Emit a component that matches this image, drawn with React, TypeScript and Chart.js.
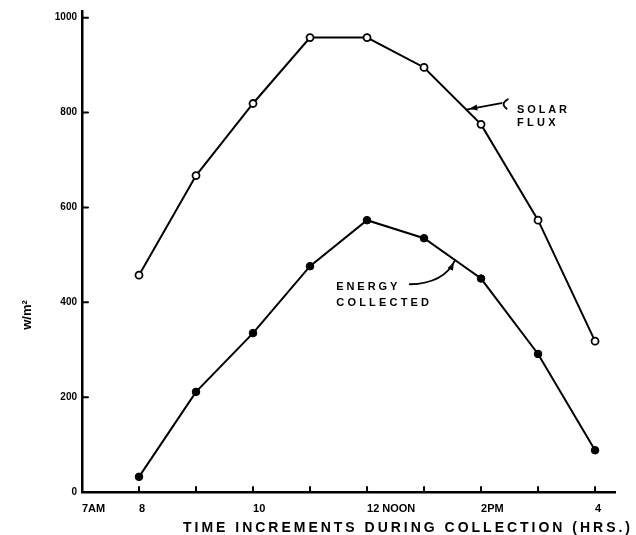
import React, { useEffect, useRef } from "react";
import { Chart, registerables } from "chart.js";

Chart.register(...registerables);

// ---- data ----
const hours = [8, 9, 10, 11, 12, 13, 14, 15, 16];
const solarFlux = [457, 667, 819, 958, 958, 895, 775, 573, 318];
const energyCollected = [32, 211, 335, 476, 573, 535, 450, 291, 88];

const xTickValues = [7, 8, 9, 10, 11, 12, 13, 14, 15, 16];
const xTickLabels = ["7AM", "8", "", "10", "", "12 NOON", "", "2PM", "", "4"];
const yTickValues = [0, 200, 400, 600, 800, 1000];

const xTitle = "TIME INCREMENTS DURING COLLECTION (HRS.)";
const yTitle = "w/m²";
const solarLabel = ["SOLAR", "FLUX"];
const energyLabel = ["ENERGY", "COLLECTED"];

const FONT = "'Liberation Sans', Arial, sans-serif";

function spacedText(ctx: CanvasRenderingContext2D, text: string, x: number, y: number, width: number) {
  (ctx as any).letterSpacing = "0px";
  const w = ctx.measureText(text).width;
  const n = text.length;
  const sp = n > 1 ? (width - w) / n : 0;
  (ctx as any).letterSpacing = sp + "px";
  ctx.textAlign = "left";
  ctx.fillText(text, x, y);
  (ctx as any).letterSpacing = "0px";
}

function drawHead(ctx: CanvasRenderingContext2D, fx: number, fy: number, tx: number, ty: number) {
  const a = Math.atan2(ty - fy, tx - fx);
  const len = 8;
  const wid = 3;
  const bx = tx - Math.cos(a) * 2;
  const by = ty - Math.sin(a) * 2;
  ctx.beginPath();
  ctx.moveTo(bx, by);
  ctx.lineTo(bx - Math.cos(a) * len - Math.sin(a) * wid, by - Math.sin(a) * len + Math.cos(a) * wid);
  ctx.lineTo(bx - Math.cos(a) * len + Math.sin(a) * wid, by - Math.sin(a) * len - Math.cos(a) * wid);
  ctx.closePath();
  ctx.fill();
}

const annotPlugin = {
  id: "annot",
  afterDraw(chart: any) {
    const ctx: CanvasRenderingContext2D = chart.ctx;
    const xs = chart.scales.x;
    const ys = chart.scales.y;
    const px = (h: number) => xs.getPixelForValue(h);
    const py = (v: number) => ys.getPixelForValue(v);
    ctx.save();
    ctx.strokeStyle = "#000";
    ctx.fillStyle = "#000";
    ctx.lineCap = "round";

    // inside tick marks
    ctx.lineWidth = 2;
    yTickValues.forEach((v) => {
      if (v === 0) return;
      const y = py(v);
      ctx.beginPath();
      ctx.moveTo(xs.left, y);
      ctx.lineTo(xs.left + 6, y);
      ctx.stroke();
    });
    xTickValues.forEach((h) => {
      if (h === 7) return;
      const x = px(h);
      ctx.beginPath();
      ctx.moveTo(x, ys.bottom);
      ctx.lineTo(x, ys.bottom - 5);
      ctx.stroke();
    });

    // x title
    ctx.font = `bold 14px ${FONT}`;
    ctx.textBaseline = "alphabetic";
    spacedText(ctx, xTitle, 183, 532, 450);

    // y title (rotated)
    ctx.save();
    ctx.translate(31, 315);
    ctx.rotate(-Math.PI / 2);
    ctx.font = `bold 13px ${FONT}`;
    ctx.textAlign = "center";
    ctx.fillText(yTitle, 0, 0);
    ctx.restore();

    // series labels
    ctx.font = `bold 11px ${FONT}`;
    spacedText(ctx, solarLabel[0], px(14.63), py(800), 53);
    spacedText(ctx, solarLabel[1], px(14.63), py(772), 42);
    spacedText(ctx, energyLabel[0], px(11.46), py(425), 64);
    spacedText(ctx, energyLabel[1], px(11.46), py(392), 96);

    // solar arrow: small "(" hook then line to the curve
    ctx.lineWidth = 1.8;
    ctx.beginPath();
    ctx.moveTo(px(14.47), py(828));
    ctx.quadraticCurveTo(px(14.33), py(818), px(14.45), py(808));
    ctx.stroke();
    ctx.beginPath();
    ctx.moveTo(px(14.36), py(820));
    ctx.lineTo(px(13.74), py(806));
    ctx.stroke();
    drawHead(ctx, px(14.0), py(812), px(13.76), py(807));

    // energy arrow
    ctx.beginPath();
    ctx.moveTo(px(12.75), py(438));
    ctx.quadraticCurveTo(px(13.35), py(440), px(13.54), py(488));
    ctx.stroke();
    drawHead(ctx, px(13.4), py(455), px(13.54), py(488));

    ctx.restore();
  },
};

export default function App() {
  const ref = useRef<HTMLCanvasElement | null>(null);

  useEffect(() => {
    document.body.style.margin = "0";
    const canvas = ref.current;
    if (!canvas) return;
    const chart = new Chart(canvas, {
      type: "line",
      data: {
        datasets: [
          {
            label: "Solar flux",
            data: hours.map((h, i) => ({ x: h, y: solarFlux[i] })),
            borderColor: "#000",
            borderWidth: 2,
            pointRadius: 3.5,
            pointBorderWidth: 1.8,
            pointBackgroundColor: "#fff",
            pointBorderColor: "#000",
            tension: 0,
          },
          {
            label: "Energy collected",
            data: hours.map((h, i) => ({ x: h, y: energyCollected[i] })),
            borderColor: "#000",
            borderWidth: 2,
            pointRadius: 3.8,
            pointBorderWidth: 1,
            pointBackgroundColor: "#000",
            pointBorderColor: "#000",
            tension: 0,
          },
        ],
      },
      options: {
        responsive: false,
        animation: false,
        events: [],
        layout: { padding: { top: 10, right: 21, left: 0, bottom: 0 } },
        plugins: { legend: { display: false }, tooltip: { enabled: false } },
        scales: {
          x: {
            type: "linear",
            min: 7,
            max: 16.35,
            grid: { display: false, drawTicks: false },
            border: { display: true, color: "#000", width: 2.5 },
            afterBuildTicks: (s: any) => {
              s.ticks = xTickValues.map((v) => ({ value: v }));
            },
            afterFit: (s: any) => {
              s.height = 43;
            },
            ticks: {
              autoSkip: false,
              maxRotation: 0,
              minRotation: 0,
              align: "start",
              padding: 10,
              color: "#000",
              font: { family: FONT, size: 11, weight: "bold" },
              callback: (v: any) => {
                const i = xTickValues.indexOf(Number(v));
                return i >= 0 ? xTickLabels[i] : "";
              },
            },
          },
          y: {
            type: "linear",
            min: 0,
            max: 1014,
            grid: { display: false, drawTicks: false },
            border: { display: true, color: "#000", width: 2.5 },
            afterBuildTicks: (s: any) => {
              s.ticks = yTickValues.map((v) => ({ value: v }));
            },
            afterFit: (s: any) => {
              s.width = 82;
            },
            ticks: {
              padding: 5,
              color: "#000",
              font: { family: FONT, size: 10, weight: "bold" },
              callback: (v: any) => String(v),
            },
          },
        },
      } as any,
      plugins: [annotPlugin],
    });
    return () => chart.destroy();
  }, []);

  return (
    <div style={{ width: 636, height: 535 }}>
      <canvas ref={ref} width={636} height={535} style={{ display: "block", width: 636, height: 535 }} />
    </div>
  );
}
